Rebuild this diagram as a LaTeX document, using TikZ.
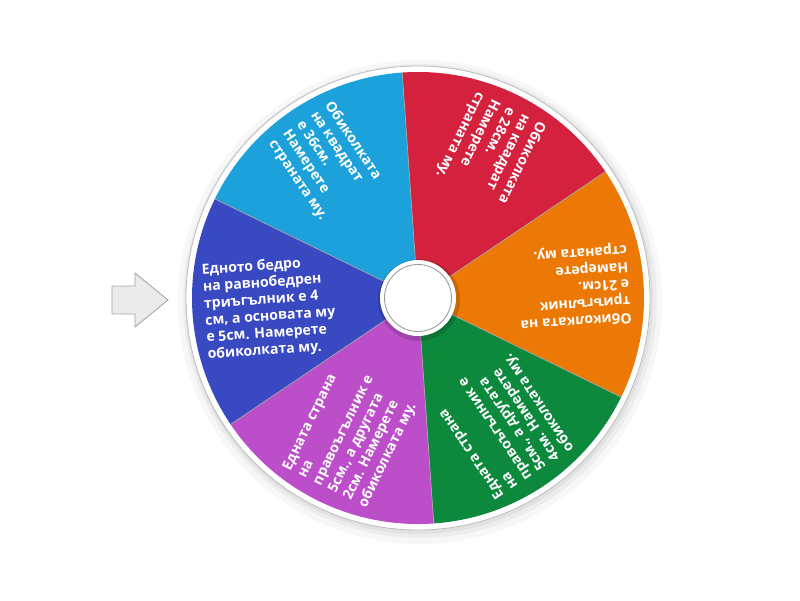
\documentclass[tikz,border=0pt]{standalone}
\usepackage{fontspec}
\setmainfont{Open Sans}
\usepackage{tikz}

\definecolor{segcyan}{RGB}{29,161,219}
\definecolor{segred}{RGB}{212,33,62}
\definecolor{segorange}{RGB}{236,121,6}
\definecolor{seggreen}{RGB}{13,137,62}
\definecolor{segpurple}{RGB}{189,78,201}
\definecolor{segblue}{RGB}{57,73,193}

\tikzset{
    segtext/.style={anchor=west,inner sep=0pt,text=white,align=left,
        font=\bfseries\fontsize{10}{12}\selectfont},
    segline/.style={draw=black!35,line width=0.5pt},
}

\begin{document}
\begin{tikzpicture}[x=0.025cm,y=0.025cm]
    \useasboundingbox (-418,-302) rectangle (382,298);

    % shadow and rim
    \fill[black,opacity=0.03] (2,-4) circle (242);
    \fill[black,opacity=0.04] (2,-3) circle (237);
    \fill[black,opacity=0.05] (1,-2) circle (234);
    \fill[white] (0,0) circle (232);
    \draw[black!25,line width=0.6pt] (0,0) circle (232);

    % segments
    \fill[segcyan]   (0,0) -- (94:226)   arc[start angle=94,end angle=154,radius=226] -- cycle;
    \fill[segred]    (0,0) -- (34:226)   arc[start angle=34,end angle=94,radius=226] -- cycle;
    \fill[segorange] (0,0) -- (-26:226)  arc[start angle=-26,end angle=34,radius=226] -- cycle;
    \fill[seggreen]  (0,0) -- (-86:226)  arc[start angle=-86,end angle=-26,radius=226] -- cycle;
    \fill[segpurple] (0,0) -- (-146:226) arc[start angle=-146,end angle=-86,radius=226] -- cycle;
    \fill[segblue]   (0,0) -- (154:226)  arc[start angle=154,end angle=214,radius=226] -- cycle;

    \draw[segline] (0,0) -- (94:226);
    \draw[segline] (0,0) -- (34:226);
    \draw[segline] (0,0) -- (-26:226);
    \draw[segline] (0,0) -- (-86:226);
    \draw[segline] (0,0) -- (-146:226);
    \draw[segline] (0,0) -- (154:226);

    % texts
    \node[segtext,rotate=304] (tCyan) at (124:212)
        {Обиколката\\на квадрат\\е 36см.\\Намерете\\страната му.};
    \node[segtext,rotate=244] (tRed) at (64:212)
        {Обиколката\\на квадрат\\е 28см.\\Намерете\\страната му.};
    \node[segtext,rotate=184] (tOrange) at (4:212)
        {Обиколката на\\триъгълник\\е 21см.\\Намерете\\страната му.};
    \node[segtext,rotate=124] (tGreen) at (-56:212)
        {Едната страна\\на\\правоъгълник е\\5см., а другата\\4см. Намерете\\обиколката му.};
    \node[segtext,rotate=64] (tPurple) at (-116:212)
        {Едната страна\\на\\правоъгълник е\\5см., а другата\\2см. Намерете\\обиколката му.};
    \node[segtext,rotate=4] (tBlue) at (184:214)
        {Едното бедро\\на равнобедрен\\триъгълник е 4\\см, а основата му\\е 5см. Намерете\\обиколката му.};

    % hub
    \fill[black,opacity=0.15] (1,-2) circle (41);
    \fill[white] (0,0) circle (38);
    \draw[black!40,line width=0.6pt] (0,0) circle (33.5);

    % pointer
    \draw[fill=black!8,draw=black!35,line width=0.6pt]
        (-306,12) -- (-283,12) -- (-283,25) -- (-250,-2) -- (-283,-29) -- (-283,-16) -- (-306,-16) -- cycle;
\end{tikzpicture}
\end{document}
